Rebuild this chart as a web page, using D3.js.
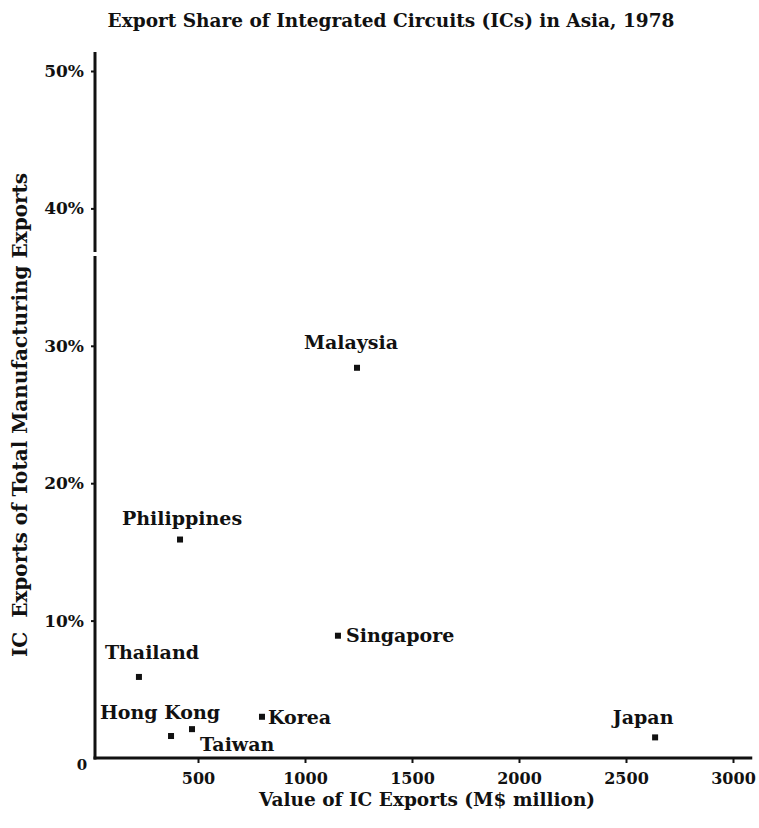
<!DOCTYPE html>
<html>
<head>
<meta charset="utf-8">
<script src="https://cdn.jsdelivr.net/npm/d3@7"></script>
<style>
  html, body { margin: 0; padding: 0; background: #fff; }
  svg { display: block; }
  text { font-family: "DejaVu Serif", "Liberation Serif", serif; font-weight: bold; fill: #111; }
</style>
</head>
<body>
<svg id="chart" width="759" height="828"></svg>
<script>
// ---- data ----
const countries = ["Malaysia", "Philippines", "Singapore", "Thailand", "Hong Kong", "Taiwan", "Korea", "Japan"];
const icExports = [1243, 416, 1154, 224, 374, 472, 799, 2636];          // M$ million
const icShare   = [28.4, 15.9, 8.9, 5.9, 1.6, 2.1, 3.0, 1.5];             // % of manufacturing exports
const xTicks = [500, 1000, 1500, 2000, 2500, 3000];
const yTicks = [10, 20, 30, 40, 50];
const yTickLabels = ["10%", "20%", "30%", "40%", "50%"];

// label placement (style, not data)
const labelPlace = {
  "Malaysia":    {dx: -6,  dy: -19, anchor: "middle"},
  "Philippines": {dx: 2,   dy: -15, anchor: "middle"},
  "Singapore":   {dx: 8,   dy: 6,   anchor: "start"},
  "Thailand":    {dx: 13,  dy: -18, anchor: "middle"},
  "Hong Kong":   {dx: -11, dy: -17, anchor: "middle"},
  "Taiwan":      {dx: 8,   dy: 22,  anchor: "start"},
  "Korea":       {dx: 6,   dy: 7,   anchor: "start"},
  "Japan":       {dx: -12, dy: -13, anchor: "middle"}
};

const svg = d3.select("#chart");

const x = d3.scaleLinear().domain([0, 3000]).range([91, 733]);
const y = d3.scaleLinear().domain([0, 50]).range([758, 71]);
const axisX = 95;

// title
svg.append("text")
  .attr("x", 391).attr("y", 27)
  .attr("text-anchor", "middle")
  .style("font-size", "18.5px")
  .text("Export Share of Integrated Circuits (ICs) in Asia, 1978");

// y axis line (with small break as in original)
const yLine = svg.append("g").attr("stroke", "#111").attr("stroke-width", 3).attr("fill", "none");
yLine.append("line").attr("x1", axisX).attr("x2", axisX).attr("y1", 52).attr("y2", 252);
yLine.append("line").attr("x1", axisX).attr("x2", axisX).attr("y1", 256).attr("y2", y(0) + 1.5);
// x axis line
svg.append("line")
  .attr("x1", axisX - 1.5).attr("x2", x(3090))
  .attr("y1", y(0)).attr("y2", y(0))
  .attr("stroke", "#111").attr("stroke-width", 3);

// x axis ticks
const gx = svg.append("g")
  .attr("transform", `translate(0,${y(0)})`)
  .call(d3.axisBottom(x).tickValues(xTicks).tickSize(5).tickPadding(10).tickFormat(d3.format("d")));
gx.select(".domain").remove();
gx.selectAll(".tick line").attr("stroke", "#111").attr("stroke-width", 2);
gx.selectAll(".tick text").style("font-size", "16px").style("font-family", null).attr("fill", "#111");

// y axis ticks
const gy = svg.append("g")
  .attr("transform", `translate(${axisX},0)`)
  .call(d3.axisLeft(y).tickValues(yTicks).tickSize(4).tickPadding(7)
        .tickFormat((d, i) => yTickLabels[i]));
gy.select(".domain").remove();
gy.selectAll(".tick line").attr("stroke", "#111").attr("stroke-width", 2);
gy.selectAll(".tick text").style("font-size", "17px").style("font-family", null).attr("fill", "#111");

// zero label
svg.append("text")
  .attr("x", 82).attr("y", y(0) + 12)
  .attr("text-anchor", "middle")
  .style("font-size", "15px")
  .text("0");

// axis titles
svg.append("text")
  .attr("x", 427).attr("y", 806)
  .attr("text-anchor", "middle")
  .style("font-size", "18.5px")
  .text("Value of IC Exports (M$ million)");

svg.append("text")
  .attr("transform", "translate(27,415) rotate(-90)")
  .attr("text-anchor", "middle")
  .style("font-size", "20px")
  .style("white-space", "pre")
  .text("IC  Exports of Total Manufacturing Exports");

// points
const data = countries.map((c, i) => ({name: c, v: icExports[i], s: icShare[i]}));

svg.append("g").selectAll("rect")
  .data(data).join("rect")
  .attr("x", d => x(d.v) - 3).attr("y", d => y(d.s) - 3)
  .attr("width", 6).attr("height", 6)
  .attr("fill", "#111");

svg.append("g").selectAll("text")
  .data(data).join("text")
  .attr("x", d => x(d.v) + labelPlace[d.name].dx)
  .attr("y", d => y(d.s) + labelPlace[d.name].dy)
  .attr("text-anchor", d => labelPlace[d.name].anchor)
  .style("font-size", "19px")
  .text(d => d.name);
</script>
</body>
</html>
